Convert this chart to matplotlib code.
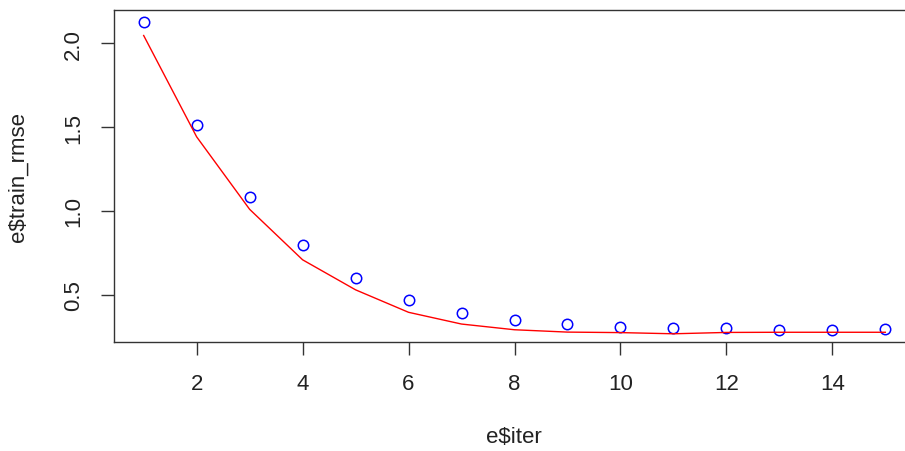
import matplotlib.pyplot as plt

plt.rcParams['font.family'] = ['Liberation Sans', 'DejaVu Sans']

# training curve values per iteration
iters = list(range(1, 16))
train_rmse = [2.125, 1.512, 1.084, 0.795, 0.600, 0.470, 0.394, 0.350,
              0.325, 0.310, 0.300, 0.302, 0.292, 0.292, 0.294]
test_rmse = [2.046, 1.442, 1.010, 0.709, 0.530, 0.396, 0.326, 0.292,
             0.278, 0.275, 0.268, 0.276, 0.277, 0.277, 0.277]

W, H = 905, 452
fig = plt.figure(figsize=(W / 100, H / 100), dpi=100)
# axes box runs past the right edge of the figure
left, right, top, bottom = 114, 915, 11, 343
ax = fig.add_axes([left / W, (H - bottom) / H, (right - left) / W, (bottom - top) / H])

ax.plot(iters, train_rmse, linestyle='none', marker='o', markersize=7.5,
        markerfacecolor='none', markeredgecolor='#0000ff', markeredgewidth=1.1)
ax.plot(iters, test_rmse, color='#ff0000', linewidth=1.0)

ax.set_xlim(0.44, 15.56)
ax.set_ylim(0.219, 2.198)
ax.set_xticks([2, 4, 6, 8, 10, 12, 14])
ax.set_yticks([0.5, 1.0, 1.5, 2.0])
ax.set_yticklabels(['0.5', '1.0', '1.5', '2.0'], rotation=90, va='center')

for s in ax.spines.values():
    s.set_color('#333333')
    s.set_linewidth(1.0)
ax.tick_params(axis='both', direction='out', length=9.5, width=1.0,
               color='#333333', labelsize=16, labelcolor='#222222')
ax.tick_params(axis='x', pad=13)
ax.tick_params(axis='y', pad=12)

fig.text(514 / W, 1 - 438 / H, 'e$iter', ha='center', va='center',
         fontsize=16, color='#222222')
fig.text(18 / W, 1 - 177 / H, 'e$train_rmse', ha='center', va='center',
         rotation=90, fontsize=16, color='#222222')

fig.savefig('out.png', dpi=100)
